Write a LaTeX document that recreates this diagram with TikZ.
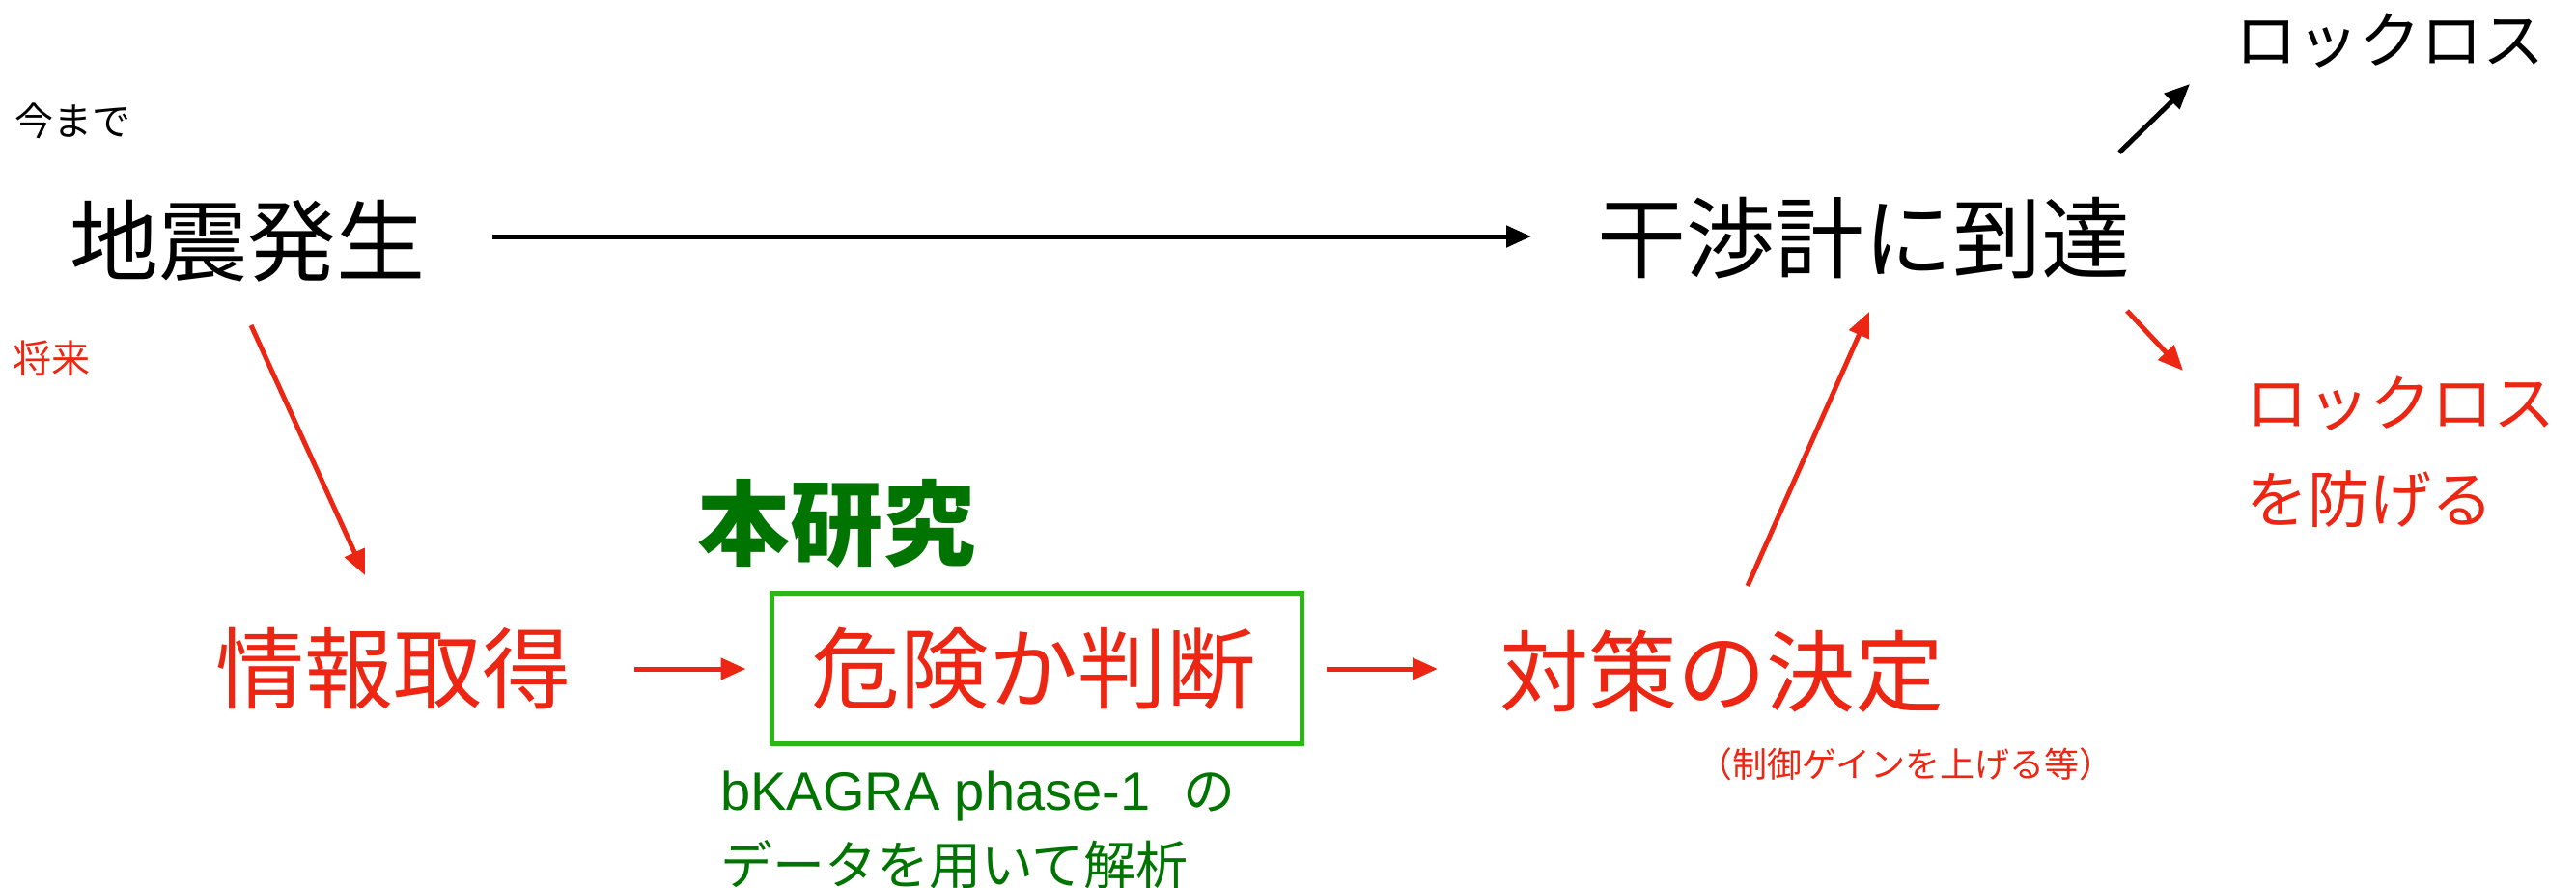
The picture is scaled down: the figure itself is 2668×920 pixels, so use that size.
\documentclass[tikz,border=0pt]{standalone}
\usepackage{fontspec}
\newfontfamily\jp{Noto Sans CJK JP}
\newfontfamily\lat{Liberation Sans}
\usetikzlibrary{arrows.meta,calc}
\definecolor{kred}{RGB}{236,38,18}
\definecolor{kdkgreen}{RGB}{0,116,0}
\definecolor{kboxgreen}{RGB}{44,184,20}
\tikzset{
  lbl/.style={inner sep=0pt,font=\jp},
  big/.style={lbl,font=\jp\fontsize{92pt}{110pt}\selectfont},
  mid/.style={lbl,font=\jp\fontsize{64pt}{100pt}\selectfont},
  small/.style={lbl,font=\jp\fontsize{40pt}{46pt}\selectfont},
  note/.style={lbl,font=\jp\fontsize{54pt}{77pt}\selectfont},
  arr/.style={line width=5pt,-{Triangle[length=26pt,width=22pt]}},
}
\begin{document}
\begin{tikzpicture}[x=1pt,y=-1pt]
\useasboundingbox[fill=white] (0,0) rectangle (2668,920);
% nodes
\node[small] (ima) at (75,125) {今まで};
\node[small,text=kred] (shorai) at (53,371) {将来};
\node[big] (jishin) at (256,250) {地震発生};
\node[big] (kansho) at (1930,247) {干渉計に到達};
\node[mid] (lock1) at (2475,42) {ロックロス};
\node[mid,text=kred,align=left,anchor=north west] (lock2) at (2326,390) {ロックロス\\を防げる};
\node[big,text=kred] (joho) at (407,693) {情報取得};
\node[lbl,text=kdkgreen,font=\jp\bfseries\fontsize{96pt}{110pt}\selectfont] (honken) at (866,542) {本研究};
\node[big,text=kred] (kikentext) at (1070,693) {危険か判断};
\node[draw=kboxgreen,line width=5pt,minimum width=549pt,minimum height=156pt] (kiken) at (1073.5,692) {};
\node[big,text=kred] (taisaku) at (1783,696) {対策の決定};
\node[lbl,text=kred,font=\jp\fontsize{36pt}{44pt}\selectfont] (seigyo) at (1974,792) {（制御ゲインを上げる等）};
\node[note,text=kdkgreen,align=left,anchor=north west] (bkagra) at (746,799) {{\lat\fontsize{56pt}{77pt}\selectfont bKAGRA phase-1}\hspace{34pt}の\\データを用いて解析};
% connectors
\draw[arr,black] ($(jishin.center)+(254,-5)$) -- ($(kansho.center)+(-344,-2)$);
\draw[arr,black] ($(kansho.center)+(265,-89)$) -- ($(lock1.center)+(-207,45)$);
\draw[arr,kred] ($(kansho.center)+(273,75)$) -- ($(lock2.north west)+(-65,-6)$);
\draw[arr,kred] ($(jishin.center)+(4,87)$) -- ($(joho.center)+(-29,-97)$);
\draw[arr,kred] ($(joho.center)+(250,0)$) -- ($(kiken.west)+(-24,1)$);
\draw[arr,kred] ($(kiken.east)+(23,1)$) -- ($(taisaku.center)+(-294,-3)$);
\draw[arr,kred] ($(taisaku.center)+(27,-89)$) -- ($(kansho.center)+(6,76)$);
\end{tikzpicture}
\end{document}
